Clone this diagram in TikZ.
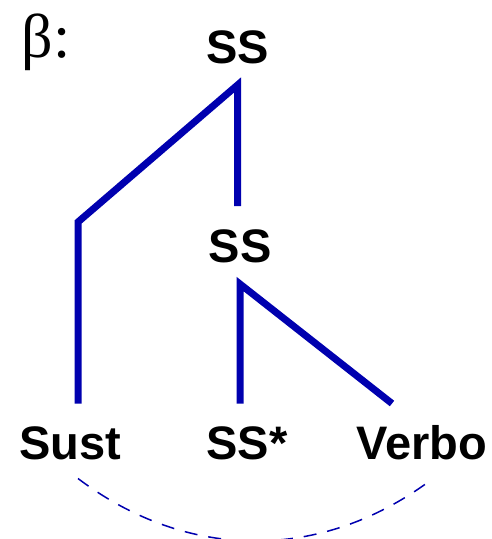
\documentclass[tikz,border=0pt]{standalone}
\usepackage{fontspec}
\setmainfont{Liberation Sans}
\newfontfamily\griega{Liberation Serif}
\definecolor{azul}{RGB}{0,0,175}
\begin{document}
\begin{tikzpicture}[x=1pt,y=-1pt,
    etiqueta/.style={font=\fontsize{47}{47}\selectfont\bfseries, text height=34pt, text depth=0pt,
      inner sep=0pt, outer xsep=0pt, outer ysep=22pt},
    rama/.style={draw=azul, line width=7pt},
    enlace/.style={draw=azul, line width=1.5pt, dash pattern=on 13pt off 11pt}]
    % Marco
    \useasboundingbox (0,0) rectangle (491,539);

    % Nombre del árbol
    \node[font=\griega\fontsize{62}{62}\selectfont, inner sep=0pt] (beta) at (46,42) {β:};

    % Nodos del árbol
    \node[etiqueta] (ssTop) at (237.5,46) {SS};
    \node[etiqueta] (ssMid) at (240,245) {SS};
    \node[etiqueta] (sust) at (70,442.5) {Sust};
    \node[etiqueta] (ssStar) at (247,442.5) {SS*};
    \node[etiqueta] (verbo) at (422,442.5) {Verbo};
    \coordinate (codo) at (78,222);

    % Ramas
    \draw[rama] (ssTop.south |- ssMid.north) -- (ssTop.south) -- (codo) -- (codo |- sust.north);
    \draw[rama] (ssMid.south |- ssStar.north) -- (ssMid.south) -- ([xshift=-30pt]verbo.north);

    % Enlace discontinuo
    \draw[enlace] ([xshift=8pt,yshift=3pt]sust.south) to[bend right=37] ([xshift=11pt,yshift=3pt]verbo.south);
\end{tikzpicture}
\end{document}
